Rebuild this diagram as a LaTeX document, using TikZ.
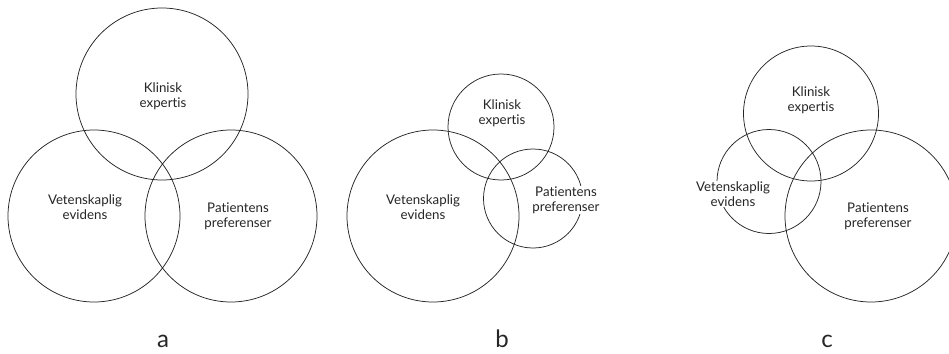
\documentclass[tikz,border=0pt]{standalone}
\usepackage{fontspec}
\setmainfont{Lato}[Ligatures=NoCommon]
\begin{document}
\begin{tikzpicture}[x=1pt,y=-1pt,
  ring/.style={draw=black!85,line width=0.75pt,circle,minimum size=#1,inner sep=0pt},
  lbl/.style={align=center,font=\fontsize{13.3}{15}\selectfont,fill=white,inner sep=1pt,text=black!85},
  panelcap/.style={font=\fontsize{24}{26}\selectfont,text=black!85}]
\useasboundingbox (0,0) rectangle (949,353);
% a
\node[ring=172pt] (aK) at (162,94) {};
\node[ring=172pt] (aV) at (94,216) {};
\node[ring=172pt] (aP) at (231,216) {};
\node[lbl] (taK) at (163,96) {Klinisk\\expertis};
\node[lbl] (taV) at (85,207) {Vetenskaplig\\evidens};
\node[lbl] (taP) at (238,216) {Patientens\\preferenser};
\node[panelcap] (la) at (163,341) {a};
% b
\node[ring=106pt] (bK) at (501,127) {};
\node[ring=172pt] (bV) at (433,216) {};
\node[ring=99pt] (bP) at (533,198.5) {};
\node[lbl] (tbK) at (502,113) {Klinisk\\expertis};
\node[lbl] (tbV) at (423,207) {Vetenskaplig\\evidens};
\node[lbl] (tbP) at (566,200) {Patientens\\preferenser};
\node[panelcap] (lb) at (502,339) {b};
% c
\node[ring=135pt] (cK) at (811,113.5) {};
\node[ring=104pt] (cV) at (769,181.5) {};
\node[ring=172pt] (cP) at (871,216) {};
\node[lbl] (tcK) at (811,100) {Klinisk\\expertis};
\node[lbl] (tcV) at (733,194) {Vetenskaplig\\evidens};
\node[lbl] (tcP) at (878,216) {Patientens\\preferenser};
\node[panelcap] (lc) at (827,341) {c};
\end{tikzpicture}
\end{document}
